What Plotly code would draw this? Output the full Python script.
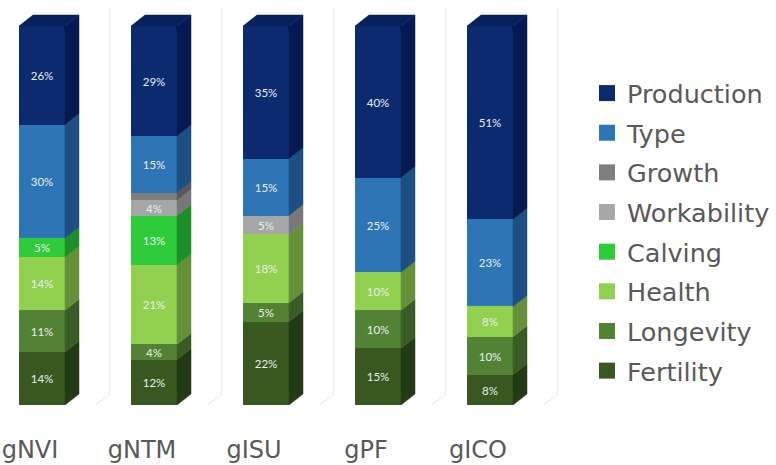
import plotly.graph_objects as go

categories = ["gNVI", "gNTM", "gISU", "gPF", "gICO"]
series_names = ["Fertility", "Longevity", "Health", "Calving", "Workability", "Growth", "Type", "Production"]
fertility = [14, 12, 22, 15, 8]
longevity = [11, 4, 5, 10, 10]
health = [14, 21, 18, 10, 8]
calving = [5, 13, 0, 0, 0]
workability = [0, 4, 5, 0, 0]
growth = [0, 2, 0, 0, 0]
type_ = [30, 15, 15, 25, 23]
production = [26, 29, 35, 40, 51]
series_values = [fertility, longevity, health, calving, workability, growth, type_, production]
front_colors = ["#38581f", "#548235", "#92d050", "#2ecb3a", "#a6a6a6", "#7f7f7f", "#2e75b6", "#0c2a70"]
side_colors = ["#233a14", "#3a5c24", "#64903a", "#1c8f28", "#787878", "#595959", "#1d4f82", "#051a50"]
top_colors = ["#2d4a1a"] * 7 + ["#08205c"]

# px-derived scales
PX_X = 112
PX_Y = 3.79
BAR = 46 / PX_X
DX = 14 / PX_X
DY = 11 / PX_Y
LABEL_SHIFT = -12 / PX_X

fig = go.Figure()
xs = list(range(len(categories)))

# faint walls and floor
for i in range(len(categories) + 1):
    x0 = i - 0.5 - 0.02
    fig.add_trace(go.Scatter(x=[x0 + DX, x0 + DX, x0], y=[105, DY, 0], mode="lines",
                             line=dict(color="#f0f0f0", width=1.5), hoverinfo="skip", showlegend=False))

for name, vals, fc in zip(series_names, series_values, front_colors):
    fig.add_trace(go.Bar(x=xs, y=vals, width=BAR, name=name, legendgroup=name, showlegend=False,
                         marker=dict(color=fc, line_width=0),
                         text=[f"{v}%" if v >= 4 else "" for v in vals],
                         textposition="inside", insidetextanchor="middle", textangle=0,
                         constraintext="none",
                         textfont=dict(family="Lato", size=11.5, color="#e8eef0")))

base = [0] * len(categories)
for name, vals, sc in zip(series_names, series_values, side_colors):
    for i, v in enumerate(vals):
        if v:
            r = i + BAR / 2
            fig.add_trace(go.Scatter(
                x=[r, r + DX, r + DX, r, r],
                y=[base[i], base[i] + DY, base[i] + v + DY, base[i] + v, base[i]],
                mode="lines", fill="toself", fillcolor=sc, line=dict(color=sc, width=0.5),
                legendgroup=name, showlegend=False, hoverinfo="skip"))
        base[i] += v

for i, total in enumerate(base):
    l, r = i - BAR / 2, i + BAR / 2
    fig.add_trace(go.Scatter(
        x=[l, l + DX, r + DX, r, l],
        y=[100, 100 + DY, 100 + DY, 100, 100],
        mode="lines", fill="toself", fillcolor=top_colors[-1], line=dict(color=top_colors[-1], width=0.5),
        legendgroup="Production", showlegend=False, hoverinfo="skip"))

for rank, (name, fc) in enumerate(zip(series_names[::-1], front_colors[::-1])):
    fig.add_trace(go.Scatter(x=[None], y=[None], mode="markers", name=name, legendgroup=name,
                             legendrank=rank + 1,
                             marker=dict(symbol="square", size=16, color=fc)))

fig.update_layout(
    width=776, height=465, barmode="stack", bargap=0,
    margin=dict(l=0, r=216, t=0, b=60),
    paper_bgcolor="white", plot_bgcolor="white",
    font=dict(family="DejaVu Sans", color="#595959"),
    xaxis=dict(range=[-42 / PX_X, (560 - 42) / PX_X], tickvals=[i + LABEL_SHIFT for i in xs], ticktext=categories,
               showgrid=False, zeroline=False, showline=False, ticks="outside", ticklen=23,
               automargin=False,
               tickcolor="rgba(0,0,0,0)", tickfont=dict(size=24, color="#595959")),
    yaxis=dict(range=[0, 405 / PX_Y], showticklabels=False, showgrid=False, zeroline=False, showline=False,
               automargin=False),
    legend=dict(x=587 / 560, xanchor="left", y=(405 - 232) / 405, yanchor="middle",
                font=dict(family="DejaVu Sans", size=25.5, color="#595959"),
                tracegroupgap=3.5, itemclick=False),
    showlegend=True,
)
fig.write_html("out.html", config=dict(displayModeBar=False), post_script="document.body.style.margin='0';")
